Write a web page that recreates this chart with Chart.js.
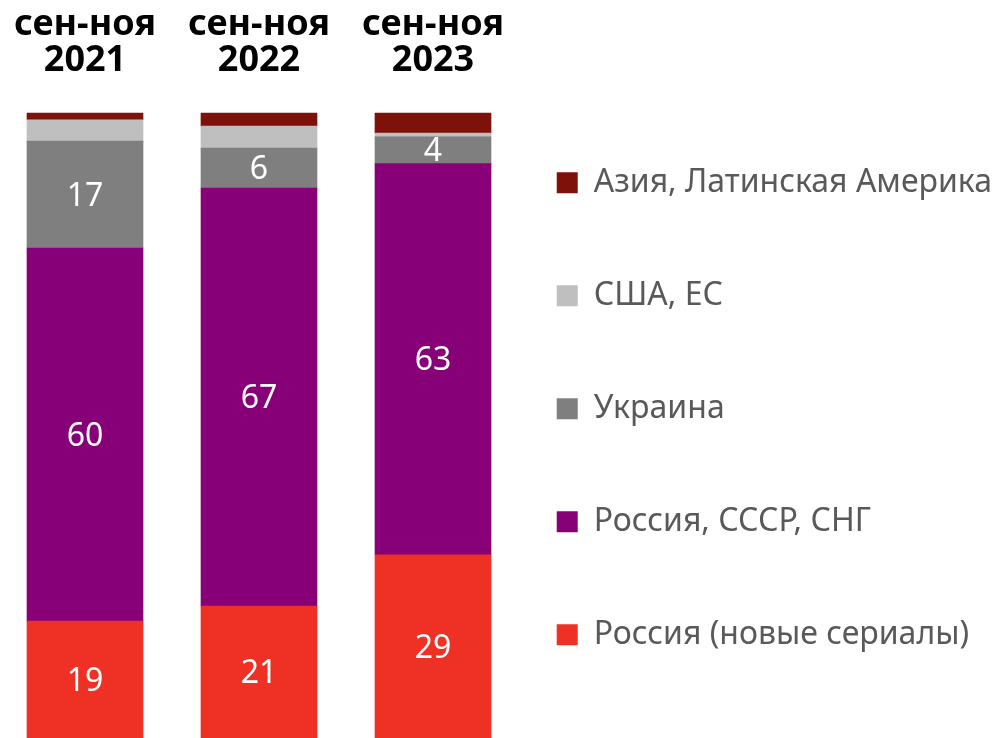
<!DOCTYPE html>
<html>
<head>
<meta charset="utf-8">
<script src="https://cdn.jsdelivr.net/npm/chart.js@4.4.1/dist/chart.umd.min.js"></script>
<style>
  html, body { margin: 0; padding: 0; background: #fff; }
  #wrap { width: 1002px; height: 738px; }
</style>
</head>
<body>
<div id="wrap"><canvas id="myChart" width="1002" height="738"></canvas></div>
<script>
'use strict';
// periods (top labels)
let periods = [['сен-ноя', '2021'], ['сен-ноя', '2022'], ['сен-ноя', '2023']];

// shares, % (bottom to top of each bar)
let russiaNew = [18.7, 21.1, 29.3];
let russiaUssrCis = [59.7, 66.9, 62.6];
let ukraine = [17.1, 6.4, 4.3];
let usaEu = [3.4, 3.5, 0.6];
let asiaLatAm = [1.1, 2.1, 3.2];

let seriesNames = ['Россия (новые сериалы)', 'Россия, СССР, СНГ', 'Украина', 'США, ЕС', 'Азия, Латинская Америка'];
let seriesColors = ['#ee3124', '#870078', '#7f7f7f', '#bfbfbf', '#7f110b'];
let labelled = [true, true, true, false, false];

const FONT = 'Noto Sans';

// white numbers in the middle of the big segments
const barLabels = {
  id: 'barLabels',
  afterDatasetsDraw(chart) {
    let ctx = chart.ctx;
    ctx.save();
    ctx.font = '32px "' + FONT + '"';
    ctx.fillStyle = '#ffffff';
    ctx.textAlign = 'center';
    ctx.textBaseline = 'middle';
    chart.data.datasets.forEach((ds, i) => {
      if (!labelled[i]) return;
      let meta = chart.getDatasetMeta(i);
      meta.data.forEach((bar, j) => {
        let p = bar.getProps(['x', 'y', 'base'], true);
        ctx.fillText(Math.round(ds.data[j]), p.x, (p.y + p.base) / 2 + 2);
      });
    });
    ctx.restore();
  }
};

let allData = [russiaNew, russiaUssrCis, ukraine, usaEu, asiaLatAm];
let datasets = [];
for (let i = 0; i < allData.length; i++) {
  datasets.push({
    label: seriesNames[i],
    data: allData[i],
    backgroundColor: seriesColors[i],
    borderWidth: 0,
    barThickness: 116,
    clip: false
  });
}

let ctx = document.getElementById('myChart').getContext('2d');
let myChart = new Chart(ctx, {
  type: 'bar',
  data: { labels: periods, datasets: datasets },
  plugins: [barLabels],
  options: {
    responsive: false,
    animation: false,
    layout: { padding: 0 },
    scales: {
      x: {
        position: 'top',
        stacked: true,
        offset: false,
        grid: { display: false, drawTicks: false },
        border: { display: false },
        ticks: {
          autoSkip: false,
          maxRotation: 0,
          padding: 34,
          color: '#000000',
          font: { family: FONT, size: 36, weight: 'bold', lineHeight: 1.0 }
        },
        afterFit(s) {
          s.height = 113;
          s.paddingLeft = 0;
          s.paddingRight = 0;
        }
      },
      y: {
        position: 'left',
        stacked: true,
        min: 0,
        max: 100,
        grid: { display: false, drawTicks: false },
        border: { display: false },
        ticks: { display: false },
        afterFit(s) { s.width = 85; }
      },
      y2: {
        position: 'right',
        grid: { display: false, drawTicks: false },
        border: { display: false },
        ticks: { display: false },
        afterFit(s) {
          let lg = s.chart.legend;
          s.width = Math.max(0, 569 - (lg ? lg.width : 0));
        }
      }
    },
    plugins: {
      tooltip: { enabled: false },
      legend: {
        position: 'right',
        align: 'start',
        reverse: true,
        maxWidth: 700,
        title: { display: true, text: ' ', padding: { top: 75.7, bottom: 0 }, font: { size: 10, lineHeight: 1 } },
        labels: {
          boxWidth: 21,
          boxHeight: 21,
          padding: 81,
          color: '#595959',
          font: { family: FONT, size: 32 }
        }
      }
    }
  }
});
</script>
</body>
</html>
